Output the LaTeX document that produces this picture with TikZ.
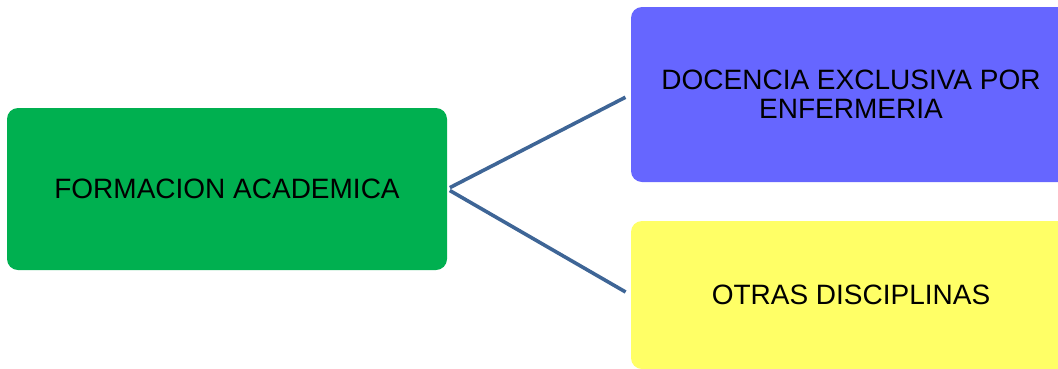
\documentclass[tikz,border=0pt]{standalone}
\usepackage{fontspec}
\setmainfont{Liberation Sans}
\usepackage{xcolor}
\definecolor{boxgreen}{HTML}{00B050}
\definecolor{boxblue}{HTML}{6666FF}
\definecolor{boxyellow}{HTML}{FFFF66}
\definecolor{linkblue}{HTML}{3E6596}

\begin{document}
\begin{tikzpicture}[x=1pt, y=-1pt,
    box/.style={rounded corners=11pt, inner sep=0pt, align=center,
        minimum width=440pt, font=\fontsize{28}{29}\selectfont},
    link/.style={draw=linkblue, line width=3.6pt,
        shorten <=3pt, shorten >=6pt}]

    % Page frame
    \useasboundingbox (0,0) rectangle (1058,368);
    \clip (0,0) rectangle (1058,368);

    % The main box
    \node[box, fill=boxgreen, minimum height=162pt]
        (formacion) at (227,189) {FORMACION ACADEMICA};

    % The two branches
    \node[box, fill=boxblue, minimum height=175pt]
        (docencia) at (851,94.5) {DOCENCIA EXCLUSIVA POR\\ENFERMERIA};
    \node[box, fill=boxyellow, minimum height=148pt]
        (otras) at (851,295) {OTRAS DISCIPLINAS};

    % Connectors
    \draw[link] (formacion.east) -- (docencia.west);
    \draw[link] (formacion.east) -- (otras.west);

\end{tikzpicture}
\end{document}
